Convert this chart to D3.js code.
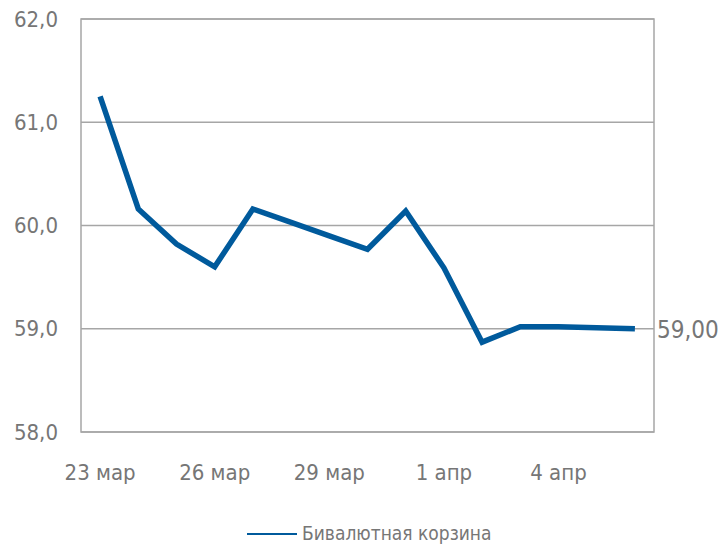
<!DOCTYPE html>
<html>
<head>
<meta charset="utf-8">
<script src="https://cdn.jsdelivr.net/npm/d3@7/dist/d3.min.js"></script>
<style>
  html, body { margin: 0; padding: 0; background: #fff; }
  svg { display: block; }
  text { font-family: "Liberation Sans Narrow", "DejaVu Sans Condensed", "Roboto", sans-serif; fill: #767676; }
</style>
</head>
<body>
<svg id="chart" width="721" height="544"></svg>
<script>
// Daily basket values, 23 March – 6 April
const days = ["23 мар","24 мар","25 мар","26 мар","27 мар","28 мар","29 мар","30 мар",
              "31 мар","1 апр","2 апр","3 апр","4 апр","5 апр","6 апр"];
const basket = [61.25, 60.16, 59.82, 59.60, 60.16, 60.03, 59.90, 59.77,
                60.14, 59.59, 58.87, 59.02, 59.02, 59.01, 59.00];
const yTicks = [58, 59, 60, 61, 62];
const xTickLabels = ["23 мар","26 мар","29 мар","1 апр","4 апр"];
const seriesName = "Бивалютная корзина";
const lastLabel = "59,00";

const svg = d3.select("#chart");
const plotLeft = 81, plotRight = 654, plotTop = 19, plotBottom = 432;
const fontStack = "'Liberation Sans Narrow', 'DejaVu Sans Condensed', Roboto, sans-serif";

const x = d3.scaleBand().domain(days).range([plotLeft, plotRight]);
const y = d3.scaleLinear().domain([58, 62]).range([plotBottom, plotTop]);
const fmt = v => d3.format(".1f")(v).replace(".", ",");

// horizontal gridlines
svg.append("g").selectAll("line").data(yTicks).join("line")
  .attr("x1", plotLeft).attr("x2", plotRight)
  .attr("y1", d => y(d)).attr("y2", d => y(d))
  .attr("stroke", "#a6a6a6").attr("stroke-width", 1.5);

// plot frame
svg.append("rect")
  .attr("x", plotLeft).attr("y", plotTop)
  .attr("width", plotRight - plotLeft).attr("height", plotBottom - plotTop)
  .attr("fill", "none").attr("stroke", "#a6a6a6").attr("stroke-width", 1.5);

// y axis labels
const yAxis = d3.axisLeft(y).tickValues(yTicks).tickFormat(fmt).tickSize(0).tickPadding(0);
const gy = svg.append("g").attr("transform", "translate(58,0)").call(yAxis);
gy.select(".domain").remove();
gy.selectAll("text").attr("font-size", 22).attr("fill", "#767676").attr("font-family", fontStack);

// x axis labels
const xAxis = d3.axisBottom(x).tickValues(xTickLabels).tickSize(0).tickPadding(0);
const gx = svg.append("g").attr("transform", `translate(0,${plotBottom + 32})`).call(xAxis);
gx.select(".domain").remove();
gx.selectAll("text").attr("font-size", 22).attr("fill", "#767676").attr("font-family", fontStack);

// basket line
const line = d3.line()
  .x((d, i) => x(days[i]) + x.bandwidth() / 2)
  .y(d => y(d));
svg.append("path").datum(basket)
  .attr("d", line)
  .attr("fill", "none")
  .attr("stroke", "#005a9c")
  .attr("stroke-width", 5.5)
  .attr("stroke-linejoin", "miter");

// value label for the last point
svg.append("text")
  .attr("x", plotRight + 3)
  .attr("y", y(basket[basket.length - 1]) + 9)
  .attr("font-size", 24)
  .attr("fill", "#767676")
  .attr("font-family", fontStack)
  .text(lastLabel);

// legend
const lg = svg.append("g").attr("transform", "translate(247,534)");
lg.append("line").attr("x1", 0).attr("x2", 50).attr("y1", 0).attr("y2", 0)
  .attr("stroke", "#005a9c").attr("stroke-width", 2);
lg.append("text").attr("x", 55).attr("y", 6).attr("font-size", 19).attr("fill", "#767676")
  .attr("font-family", fontStack)
  .text(seriesName);
</script>
</body>
</html>
